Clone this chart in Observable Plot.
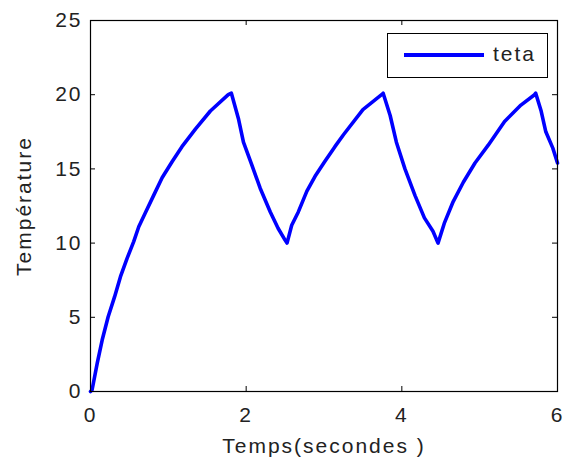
<!DOCTYPE html>
<html>
<head>
<meta charset="utf-8">
<script src="https://cdn.jsdelivr.net/npm/d3@7"></script>
<script src="https://cdn.jsdelivr.net/npm/@observablehq/plot@0.6"></script>
<style>
  body { margin: 0; background: #fff; }
  #wrap { position: relative; width: 563px; height: 463px; }
  #legend {
    position: absolute; left: 387px; top: 33px; width: 159px; height: 43px;
    border: 1px solid #000; background: #fff;
    font-family: "Liberation Sans", Arial, sans-serif; font-size: 21px; letter-spacing: 2px; color: #222;
  }
  #legend .sw { position: absolute; left: 16px; top: 19px; width: 80px; height: 4px; background: #0000ff; }
  #legend .lb { position: absolute; left: 105px; top: 8px; line-height: 24px; }
</style>
</head>
<body>
<div id="wrap"></div>
<script>
const seriesName = "teta";
const xLabel = "Temps(secondes )";
const yLabel = "Température";
const xTicks = [0, 2, 4, 6];
const yTicks = [0, 5, 10, 15, 20, 25];
const time = [0, 0.02, 0.086, 0.15, 0.227, 0.31, 0.385, 0.47, 0.555, 0.62, 0.705, 0.81, 0.92, 1.05, 1.175, 1.35, 1.54, 1.77, 1.81,
  1.90, 1.965, 2.07, 2.18, 2.31, 2.41, 2.50, 2.525,
  2.585, 2.67, 2.78, 2.885, 3.01, 3.14, 3.25, 3.50, 3.74, 3.76,
  3.85, 3.93, 4.04, 4.17, 4.29, 4.40, 4.465,
  4.55, 4.66, 4.79, 4.94, 5.11, 5.32, 5.53, 5.705, 5.72,
  5.79, 5.85, 5.94, 6.0];
const teta = [0, 0.1, 1.9, 3.47, 5.04, 6.39, 7.74, 8.97, 10.1, 11.1, 12.05, 13.2, 14.4, 15.5, 16.5, 17.7, 18.9, 20.0, 20.1,
  18.4, 16.8, 15.3, 13.7, 12.1, 11.0, 10.2, 10.0,
  11.2, 12.1, 13.5, 14.5, 15.5, 16.5, 17.3, 19.0, 20.0, 20.1,
  18.6, 16.8, 15.0, 13.2, 11.7, 10.8, 10.0,
  11.4, 12.8, 14.1, 15.4, 16.6, 18.2, 19.3, 20.0, 20.1,
  18.9, 17.5, 16.4, 15.4];

const data = time.map((t, i) => ({t, v: teta[i]}));
const W = 563, H = 463, mL = 90, mR = 6, mT = 20, mB = 72;
const innerH = H - mT - mB, innerW = W - mL - mR, tk = 5;

const chart = Plot.plot({
  width: W, height: H,
  marginLeft: mL, marginRight: mR, marginTop: mT, marginBottom: mB,
  style: {fontFamily: "'Liberation Sans', Arial, sans-serif", fontSize: "21px", letterSpacing: "2px", color: "#222", background: "#fff", overflow: "visible"},
  x: {domain: [0, 6]},
  y: {domain: [0, 25]},
  marks: [
    Plot.axisX(xTicks, {tickSize: 0, tickPadding: 16, label: null, fill: "#222"}),
    Plot.axisY(yTicks, {tickSize: 0, tickPadding: 8, label: null, fill: "#222"}),
    Plot.tickX(xTicks, {x: d => d, insetTop: innerH - tk, stroke: "#000"}),
    Plot.tickX(xTicks, {x: d => d, insetBottom: innerH - tk, stroke: "#000"}),
    Plot.tickY(yTicks, {y: d => d, insetRight: innerW - tk, stroke: "#000"}),
    Plot.tickY(yTicks, {y: d => d, insetLeft: innerW - tk, stroke: "#000"}),
    Plot.line(data, {x: "t", y: "v", stroke: "#0000ff", strokeWidth: 3.6, strokeLinejoin: "round"}),
    Plot.frame({stroke: "#000", strokeWidth: 1.2}),
    Plot.text([yLabel], {frameAnchor: "left", dx: -66, rotate: -90, text: d => d, lineAnchor: "middle", textAnchor: "middle", fill: "#222"}),
    Plot.text([xLabel], {frameAnchor: "bottom", dy: 55, text: d => d, lineAnchor: "middle", textAnchor: "middle", fill: "#222"})
  ]
});
const wrap = document.getElementById("wrap");
wrap.appendChild(chart);
const lg = document.createElement("div");
lg.id = "legend";
lg.innerHTML = `<div class="sw"></div><div class="lb"></div>`;
lg.querySelector(".lb").textContent = seriesName;
wrap.appendChild(lg);
</script>
</body>
</html>
